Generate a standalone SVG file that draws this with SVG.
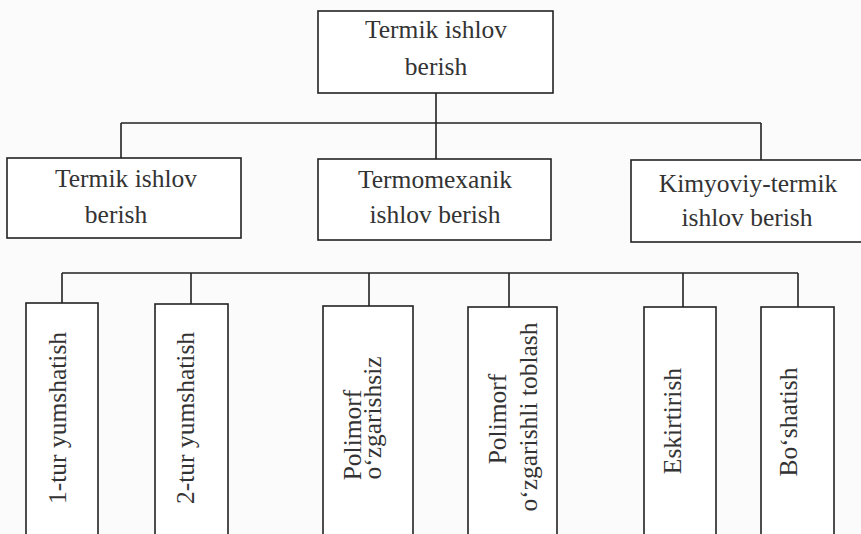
<svg xmlns="http://www.w3.org/2000/svg" width="861" height="534" viewBox="0 0 861 534">
<style>
.box{fill:#fff;stroke:#222;stroke-width:1.6}
.ln{fill:none;stroke:#222;stroke-width:1.6}
.t{font-family:"Liberation Serif","Times New Roman",serif;font-size:25.5px;fill:#333;text-anchor:middle}
</style>
<rect width="861" height="534" fill="#fbfbfb"/>
<g id="connectors">
<path class="ln" d="M436 93V123M121 123H761M121 123V158M436 123V159M761 123V160"/>
<path class="ln" d="M62 273H798M62 273V303M191 273V304M369 273V306M509 273V307M683 273V307M798 273V307"/>
</g>
<g id="root">
<rect class="box" x="318" y="11" width="235" height="82"/>
<text class="t" x="436" y="38">Termik ishlov</text>
<text class="t" x="436" y="75">berish</text>
</g>
<g id="n1">
<rect class="box" x="7" y="158" width="234" height="80"/>
<text class="t" x="126" y="187">Termik ishlov</text>
<text class="t" x="116" y="223">berish</text>
</g>
<g id="n2">
<rect class="box" x="318" y="159" width="233" height="81"/>
<text class="t" x="435" y="188">Termomexanik</text>
<text class="t" x="435" y="223">ishlov berish</text>
</g>
<g id="n3">
<rect class="box" x="631" y="160" width="240" height="82"/>
<text class="t" x="748" y="192">Kimyoviy-termik</text>
<text class="t" x="747" y="226">ishlov berish</text>
</g>
<g id="v1">
<rect class="box" x="26" y="303" width="72" height="240"/>
<text class="t" transform="translate(66 418) rotate(-90)">1-tur yumshatish</text>
</g>
<g id="v2">
<rect class="box" x="155" y="304" width="73" height="240"/>
<text class="t" transform="translate(194 418) rotate(-90)">2-tur yumshatish</text>
</g>
<g id="v3">
<rect class="box" x="323" y="306" width="90" height="240"/>
<text class="t" transform="translate(361 435) rotate(-90)">Polimorf</text>
<text class="t" transform="translate(381 418) rotate(-90)">o‘zgarishsiz</text>
</g>
<g id="v4">
<rect class="box" x="468" y="307" width="89" height="240"/>
<text class="t" transform="translate(506 419) rotate(-90)">Polimorf</text>
<text class="t" transform="translate(537 417) rotate(-90)">o‘zgarishli toblash</text>
</g>
<g id="v5">
<rect class="box" x="644" y="307" width="72" height="240"/>
<text class="t" transform="translate(681 421) rotate(-90)">Eskirtirish</text>
</g>
<g id="v6">
<rect class="box" x="761" y="307" width="73" height="240"/>
<text class="t" transform="translate(797 422) rotate(-90)">Bo‘shatish</text>
</g>
</svg>
